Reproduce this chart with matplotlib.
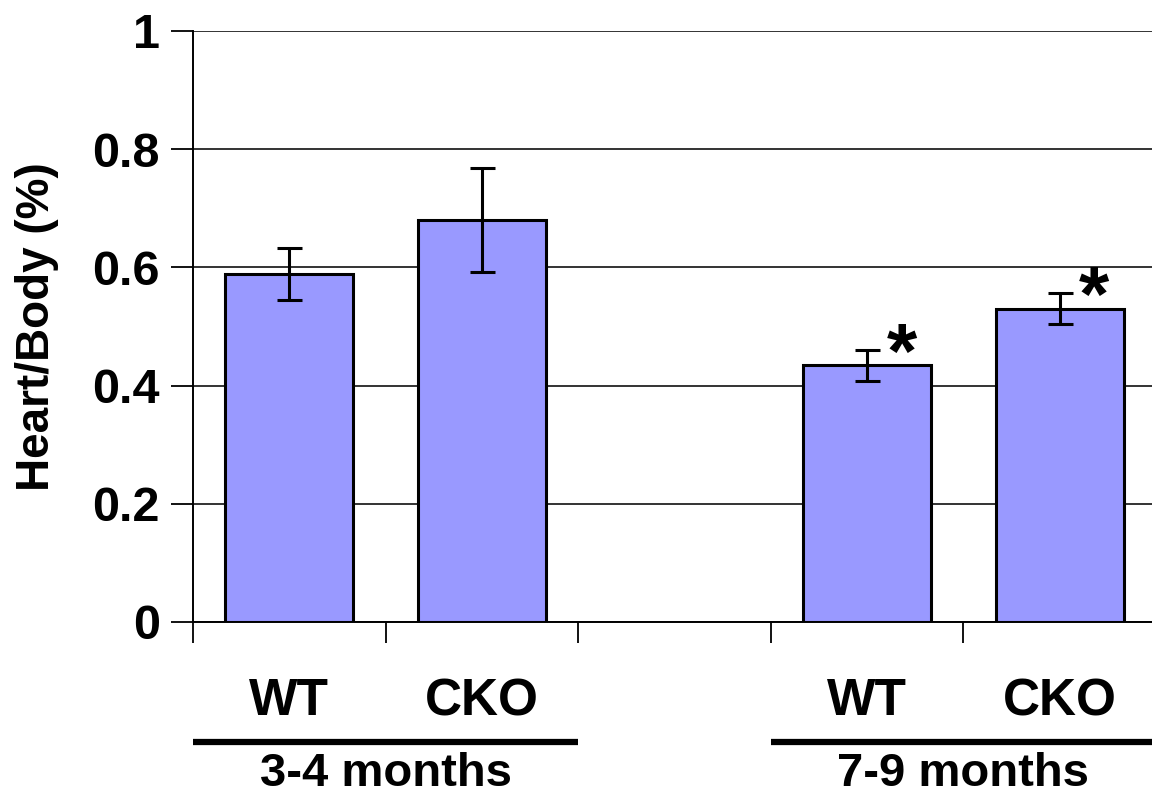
import matplotlib
matplotlib.use("Agg")
import matplotlib.pyplot as plt
import matplotlib.transforms as mtransforms

# heart/body weight ratio, mean and error per group
genotypes = ["WT", "CKO", "WT", "CKO"]
ages = ["3-4 months", "7-9 months"]
ratio = [0.588, 0.680, 0.434, 0.530]
ratio_err = [0.044, 0.088, 0.026, 0.026]
significant = [False, False, True, True]

plt.rcParams["font.family"] = ["Liberation Sans", "DejaVu Sans"]
plt.rcParams["font.weight"] = "bold"

fig = plt.figure(figsize=(11.52, 7.98), dpi=100)
ax = fig.add_axes([0.1675, 0.2206, 0.836, 0.7406])

# slot positions: two bars, one empty slot, two bars
xpos = [0.5, 1.5, 3.5, 4.5]

ax.bar(xpos, ratio, width=0.665, color="#9999FF", edgecolor="black",
       linewidth=2.2, zorder=3)
ax.errorbar(xpos, ratio, yerr=ratio_err, fmt="none", ecolor="black",
            elinewidth=2.2, capsize=9, capthick=2.2, zorder=4)

for x, m, e, sig in zip(xpos, ratio, ratio_err, significant):
    if sig:
        ax.text(x + 0.18, m + e - 0.012, "*", fontsize=56, fontweight="bold",
                ha="center", va="center", zorder=5)

ax.set_xlim(0, 5)
ax.set_ylim(0, 1)
ax.set_yticks([0, 0.2, 0.4, 0.6, 0.8, 1.0])
ax.set_yticklabels(["0", "0.2", "0.4", "0.6", "0.8", "1"])
ax.set_xticks([0, 1, 2, 3, 4])
ax.set_xticklabels([])
ax.tick_params(axis="y", length=16, width=1.3, labelsize=35, pad=8)
ax.tick_params(axis="x", length=15, width=1.3)
ax.grid(axis="y", color="#333333", linewidth=1.4, zorder=0)

for side in ["top", "right"]:
    ax.spines[side].set_visible(False)
ax.spines["left"].set_linewidth(1.4)
ax.spines["bottom"].set_linewidth(1.4)

ax.set_ylabel("Heart/Body (%)", fontsize=33, fontweight="bold", labelpad=24)

trans = mtransforms.blended_transform_factory(ax.transData, ax.transAxes)
for x, g in zip(xpos, genotypes):
    ax.text(x, -0.135, g, fontsize=37, fontweight="bold", ha="center",
            va="center", transform=trans)

for (x0, x1), age in zip([(0, 2), (3, 5)], ages):
    ax.plot([x0, x1], [-0.203, -0.203], color="black", lw=4.5,
            transform=trans, clip_on=False, solid_capstyle="butt")
    ax.text((x0 + x1) / 2, -0.258, age, fontsize=34, fontweight="bold",
            ha="center", va="center", transform=trans)

fig.savefig("out.png", dpi=100)
